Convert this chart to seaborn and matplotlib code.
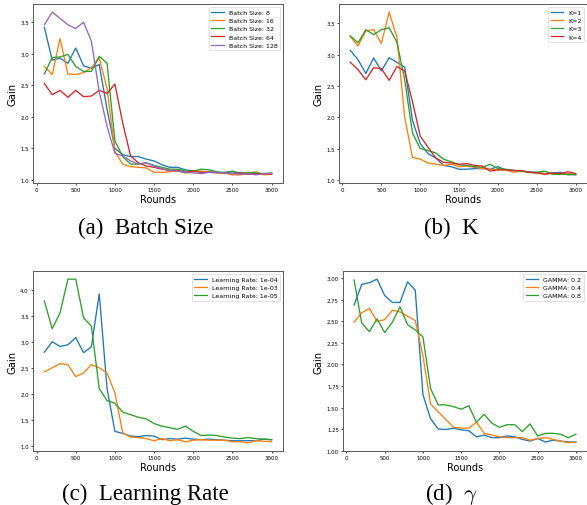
import numpy as np
import pandas as pd
import matplotlib
matplotlib.use("Agg")
import matplotlib.pyplot as plt
import seaborn as sns

"""
0. Data read off the reference (rounds 100..3000, step 100).
"""
rounds = list(range(100, 3001, 100))

batch_labels = ['Batch Size: 8', 'Batch Size: 16', 'Batch Size: 32', 'Batch Size: 64', 'Batch Size: 128']
batch_8 = [3.42, 2.90, 2.93, 2.85, 3.09, 2.81, 2.77, 2.83, 2.12, 1.50, 1.40, 1.37, 1.37, 1.33, 1.30,
           1.24, 1.20, 1.20, 1.16, 1.14, 1.13, 1.13, 1.12, 1.12, 1.13, 1.11, 1.10, 1.10, 1.10, 1.10]
batch_16 = [2.80, 2.67, 3.24, 2.68, 2.67, 2.70, 2.78, 2.93, 2.45, 1.45, 1.25, 1.21, 1.20, 1.19, 1.12,
            1.12, 1.13, 1.14, 1.11, 1.13, 1.14, 1.12, 1.12, 1.11, 1.08, 1.08, 1.10, 1.13, 1.08, 1.09]
batch_32 = [2.68, 2.94, 2.95, 2.99, 2.80, 2.72, 2.72, 2.96, 2.85, 1.62, 1.37, 1.25, 1.25, 1.27, 1.23,
            1.20, 1.17, 1.17, 1.14, 1.14, 1.17, 1.16, 1.13, 1.11, 1.14, 1.10, 1.12, 1.11, 1.10, 1.11]
batch_64 = [2.53, 2.35, 2.42, 2.31, 2.42, 2.32, 2.33, 2.42, 2.37, 2.52, 1.90, 1.38, 1.27, 1.22, 1.20,
            1.17, 1.15, 1.15, 1.12, 1.14, 1.12, 1.12, 1.11, 1.11, 1.10, 1.11, 1.09, 1.09, 1.10, 1.09]
batch_128 = [3.46, 3.66, 3.56, 3.46, 3.40, 3.50, 3.20, 2.40, 1.85, 1.42, 1.38, 1.30, 1.25, 1.27, 1.22,
             1.18, 1.15, 1.14, 1.12, 1.11, 1.10, 1.12, 1.12, 1.11, 1.10, 1.09, 1.10, 1.08, 1.10, 1.10]

k_labels = ['K=1', 'K=2', 'K=3', 'K=4']
k_1 = [3.07, 2.92, 2.70, 2.95, 2.74, 2.95, 2.88, 2.80, 1.95, 1.58, 1.42, 1.35, 1.23, 1.21, 1.17,
       1.17, 1.18, 1.18, 1.17, 1.21, 1.16, 1.15, 1.14, 1.13, 1.12, 1.10, 1.11, 1.12, 1.08, 1.09]
k_2 = [3.29, 3.14, 3.38, 3.40, 3.18, 3.68, 3.28, 2.00, 1.36, 1.33, 1.27, 1.25, 1.23, 1.25, 1.21,
       1.22, 1.20, 1.18, 1.17, 1.16, 1.16, 1.12, 1.14, 1.12, 1.11, 1.10, 1.10, 1.09, 1.10, 1.09]
k_3 = [3.30, 3.19, 3.40, 3.32, 3.40, 3.43, 3.20, 2.60, 1.75, 1.50, 1.47, 1.43, 1.33, 1.29, 1.24,
       1.23, 1.21, 1.20, 1.25, 1.18, 1.17, 1.15, 1.14, 1.12, 1.12, 1.14, 1.09, 1.09, 1.09, 1.08]
k_4 = [2.88, 2.76, 2.60, 2.79, 2.78, 2.59, 2.81, 2.74, 2.25, 1.70, 1.52, 1.35, 1.28, 1.27, 1.25,
       1.26, 1.23, 1.22, 1.14, 1.16, 1.16, 1.15, 1.15, 1.12, 1.11, 1.09, 1.11, 1.10, 1.13, 1.10]

lr_labels = ['Learning Rate: 1e-04', 'Learning Rate: 1e-03', 'Learning Rate: 1e-05']
lr_1e4 = [2.80, 3.00, 2.91, 2.94, 3.08, 2.79, 2.90, 3.92, 2.10, 1.28, 1.24, 1.19, 1.18, 1.20, 1.19,
          1.12, 1.14, 1.13, 1.15, 1.13, 1.12, 1.13, 1.12, 1.11, 1.10, 1.10, 1.10, 1.10, 1.13, 1.12]
lr_1e3 = [2.42, 2.50, 2.58, 2.56, 2.33, 2.40, 2.56, 2.50, 2.40, 2.02, 1.25, 1.17, 1.16, 1.14, 1.10,
          1.14, 1.10, 1.12, 1.08, 1.11, 1.12, 1.11, 1.11, 1.11, 1.08, 1.08, 1.06, 1.10, 1.09, 1.08]
lr_1e5 = [3.78, 3.25, 3.55, 4.20, 4.20, 3.46, 3.30, 2.10, 1.87, 1.82, 1.65, 1.60, 1.55, 1.52, 1.43,
          1.38, 1.35, 1.32, 1.38, 1.28, 1.20, 1.21, 1.20, 1.17, 1.15, 1.14, 1.16, 1.14, 1.13, 1.12]

gamma_labels = ['GAMMA: 0.2', 'GAMMA: 0.4', 'GAMMA: 0.8']
gamma_02 = [2.69, 2.93, 2.95, 2.99, 2.80, 2.72, 2.72, 2.96, 2.86, 1.65, 1.37, 1.25, 1.245, 1.26, 1.24,
            1.23, 1.16, 1.18, 1.15, 1.15, 1.17, 1.16, 1.13, 1.11, 1.14, 1.10, 1.12, 1.11, 1.10, 1.10]
gamma_04 = [2.49, 2.60, 2.65, 2.50, 2.52, 2.63, 2.61, 2.56, 2.51, 2.10, 1.54, 1.45, 1.36, 1.27, 1.26,
            1.26, 1.33, 1.20, 1.18, 1.16, 1.15, 1.15, 1.15, 1.12, 1.14, 1.15, 1.13, 1.11, 1.09, 1.10]
gamma_08 = [2.98, 2.48, 2.38, 2.53, 2.37, 2.49, 2.67, 2.46, 2.40, 2.32, 1.72, 1.53, 1.53, 1.51, 1.48,
            1.52, 1.33, 1.42, 1.32, 1.27, 1.30, 1.30, 1.22, 1.31, 1.17, 1.20, 1.20, 1.19, 1.15, 1.19]

panels = [
    (batch_labels, [batch_8, batch_16, batch_32, batch_64, batch_128], '(a)  Batch Size'),
    (k_labels, [k_1, k_2, k_3, k_4], '(b)  K'),
    (lr_labels, [lr_1e4, lr_1e3, lr_1e5], '(c)  Learning Rate'),
    (gamma_labels, [gamma_02, gamma_04, gamma_08], r'(d)  $\gamma$'),
]

"""
1. Layout: four small panels with serif captions below.
"""
plt.rcParams['mathtext.fontset'] = 'cm'
W, H = 587, 506
fig = plt.figure(figsize=(W / 100, H / 100), dpi=100)

# axes boxes in pixels: left, top, right, bottom
boxes = [(33, 5, 283, 184), (339, 5, 587, 184), (33, 272, 283, 452), (343, 272, 587, 452)]
caption_pos = [(146, 228), (451, 228), (145, 494), (451, 494)]

tab10 = sns.color_palette('tab10')

for (labels, series, caption), (l, t, r, b), (cx, cy) in zip(panels, boxes, caption_pos):
    ax = fig.add_axes([l / W, 1 - b / H, (r - l) / W, (b - t) / H])
    df = pd.DataFrame({
        'Rounds': np.tile(rounds, len(series)),
        'Gain': np.concatenate(series),
        'run': np.repeat(labels, len(rounds)),
    })
    sns.lineplot(data=df, x='Rounds', y='Gain', hue='run', hue_order=labels,
                 palette=tab10[:len(labels)], linewidth=0.95, ax=ax)
    ax.set_xticks(np.arange(0, 3001, 500))
    ax.tick_params(labelsize=3.9, length=1.5, width=0.5, pad=1.5)
    ax.set_xlabel('Rounds', fontsize=7.0, labelpad=1)
    ax.set_ylabel('Gain', fontsize=7.2, labelpad=2)
    for sp in ax.spines.values():
        sp.set_color('0.35')
        sp.set_linewidth(0.7)
    leg = ax.legend(loc='upper right', fontsize=4.5, title=None, borderpad=0.4,
                    labelspacing=0.45, handlelength=2.0, frameon=True)
    leg.get_frame().set_linewidth(0.5)
    for line in leg.get_lines():
        line.set_linewidth(0.9)
    fig.text(cx / W, 1 - cy / H, caption, ha='center', va='center',
             fontsize=16.5, family='Liberation Serif')

fig.savefig('out.png', dpi=100)
